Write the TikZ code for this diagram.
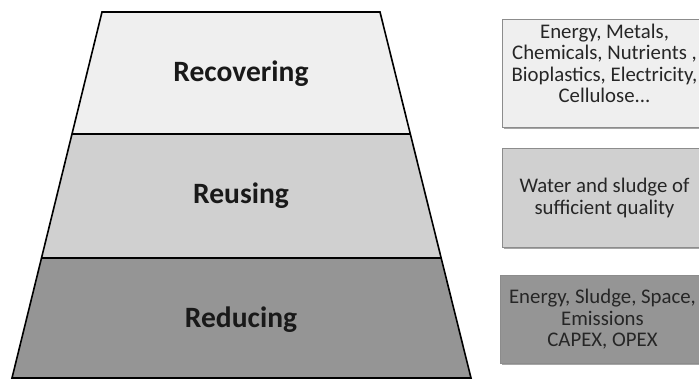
\documentclass[tikz,border=0pt]{standalone}
\usepackage{fontspec}
\setmainfont{Carlito}
\usetikzlibrary{calc}
\definecolor{bandtop}{HTML}{EFEFEF}
\definecolor{bandmid}{HTML}{D0D0D0}
\definecolor{bandlow}{HTML}{959595}
\definecolor{boxedge}{HTML}{8C8C8C}
\tikzset{
  band/.style={draw=black, line width=1.6pt, line join=miter},
  bandlabel/.style={font=\bfseries\fontsize{29.5}{32}\selectfont, text=black!90},
  infobox/.style={draw=boxedge, line width=1pt, align=center, inner sep=0pt,
    font=\fontsize{20.8}{21.5}\selectfont, text=black!85,
    minimum width=204pt},
  infotext/.style={align=center, inner sep=0pt,
    font=\fontsize{20.8}{21.5}\selectfont, text=black!85}
}
\begin{document}
\begin{tikzpicture}[x=1pt,y=1pt]
  \clip (0,0) rectangle (699,380);
  \useasboundingbox (0,0) rectangle (699,380);
  \fill[white] (0,0) rectangle (699,380);
  % corner points of the trapezoid (y measured upward)
  \coordinate (tl) at (102,368);
  \coordinate (tr) at (380,368);
  \coordinate (ml) at (72,246);
  \coordinate (mr) at (410,246);
  \coordinate (ll) at (42,122);
  \coordinate (lr) at (441,122);
  \coordinate (bl) at (12,2);
  \coordinate (br) at (471,2);
  % three bands
  \fill[bandtop] (tl) -- (tr) -- (mr) -- (ml) -- cycle;
  \fill[bandmid] (ml) -- (mr) -- (lr) -- (ll) -- cycle;
  \fill[bandlow] (ll) -- (lr) -- (br) -- (bl) -- cycle;
  \draw[band] (ml) -- (mr);
  \draw[band] (ll) -- (lr);
  \draw[band] (tl) -- (tr) -- (br) -- (bl) -- cycle;
  % band labels
  \node[bandlabel] (recovering) at (241,306) {Recovering};
  \node[bandlabel] (reusing) at (241,184) {Reusing};
  \node[bandlabel] (reducing) at (241,60) {Reducing};
  % side boxes with a faint drop shadow
  \fill[black!35] (504,251) rectangle (708,359);
  \node[infobox, fill=bandtop, minimum height=108pt, anchor=north west] (box1) at (502,361) {};
  \node[infotext] (box1text) at ([yshift=10pt]box1.center)
    {Energy, Metals,\\Chemicals, Nutrients ,\\Bioplastics, Electricity,\\Cellulose...};
  \fill[black!35] (504,131) rectangle (708,230);
  \node[infobox, fill=bandmid, minimum height=99pt, anchor=north west] (box2) at (502,232)
    {Water and sludge of\\sufficient quality};
  \fill[black!35] (502,15) rectangle (708,103);
  \node[infobox, fill=bandlow, minimum height=88pt, anchor=north west] (box3) at (500,105)
    {Energy, Sludge, Space,\\Emissions\\CAPEX, OPEX};
\end{tikzpicture}
\end{document}
